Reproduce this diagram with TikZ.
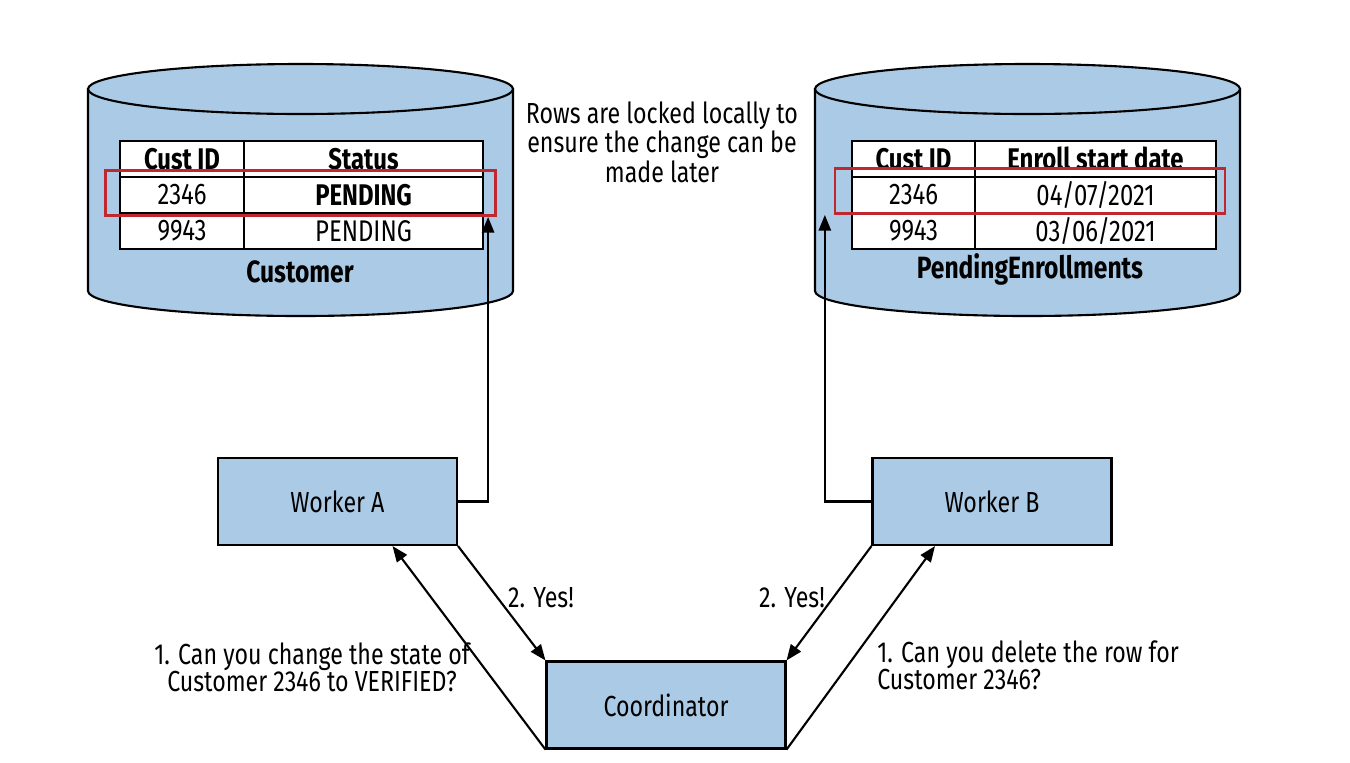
\documentclass[tikz,border=0pt]{standalone}
\usepackage{fontspec}
\setmainfont{Fira Sans}[FakeStretch=0.8]
\usetikzlibrary{positioning,arrows.meta,calc}
\definecolor{dbblue}{RGB}{171,202,229}
\definecolor{lockred}{RGB}{190,40,46}
\tikzstyle{dbwall}=[draw=black,fill=dbblue,line width=1.2pt]
\tikzstyle{box}=[rectangle,draw=black,fill=dbblue,line width=1.2pt,minimum width=4.78cm,minimum height=1.74cm,inner sep=0pt,font=\fontsize{16.5}{18}\selectfont]
\tikzstyle{cell}=[rectangle,draw=black,fill=white,line width=1.2pt,minimum height=0.71cm,inner sep=0pt,anchor=north west,font=\fontsize{17}{18}\selectfont]
\tikzstyle{lock}=[rectangle,draw=lockred,line width=1.6pt,minimum width=7.8cm,minimum height=0.9cm,inner sep=0pt]
\tikzstyle{edge}=[draw,line width=1.2pt,-{Triangle[length=9pt,width=7pt]}]
\tikzstyle{note}=[font=\fontsize{16.5}{15.3}\selectfont,inner sep=0pt]

\begin{document}
\begin{tikzpicture}[x=0.02cm,y=-0.02cm]
    \useasboundingbox (0,0) rectangle (1350,762);
    % the two databases
    \foreach \l/\r in {88/513, 815/1240}
    {
        \filldraw[dbwall] (\l,89) -- (\l,291) arc[start angle=180,end angle=0,x radius={(\r-\l)/2},y radius=25] -- (\r,89) -- cycle;
        \filldraw[dbwall] ({(\l+\r)/2},89) ellipse[x radius={(\r-\l)/2},y radius=25];
    }

    % table rows of Customer and PendingEnrollments
    \foreach \y/\name/\a/\b/\c in {140/h/{\bfseries Cust ID}/{\bfseries Status}/{\bfseries Enroll start date}, 176/r1/2346/{\bfseries PENDING}/{04/07/2021}, 212/r2/9943/PENDING/{03/06/2021}}
    {
        \node[cell,minimum width=2.48cm] (custid\name) at (119,\y) {\a};
        \node[cell,minimum width=4.78cm] (status\name) at (243,\y) {\b};
        \node[cell,minimum width=2.46cm] (pendid\name) at (851,\y) {\a};
        \node[cell,minimum width=4.82cm] (enroll\name) at (974,\y) {\c};
    }
    \node[font=\fontsize{17.5}{18}\selectfont\bfseries] (custlabel) at (300,272) {Customer};
    \node[font=\fontsize{17.5}{18}\selectfont\bfseries] (pendlabel) at (1030,269) {PendingEnrollments};

    % locked rows
    \node[lock] (lockA) at (300.5,193) {};
    \node[lock] (lockB) at (1030,191) {};

    % workers and coordinator
    \node[box] (workerA) at (337.5,501.5) {Worker A};
    \node[box] (workerB) at (992,501.5) {Worker B};
    \node[box] (coord) at (666,705) {Coordinator};

    % connectors
    \path[edge] (workerA.east) -| ([xshift=-5]lockA.south east);
    \path[edge] (workerB.west) -| ([xshift=-5]lockB.south west);
    \path[edge] (coord.south west) -- ($(workerA.south)+(55,0)$);
    \path[edge] (workerA.south east) -- (coord.north west);
    \path[edge] (workerB.south west) -- (coord.north east);
    \path[edge] (coord.south east) -- ($(workerB.south)+(-57,0)$);

    % labels
    \node[note] (yesA) at (541,598) {2. Yes!};
    \node[note] (yesB) at (792,598) {2. Yes!};
    \node[note,align=center] (askA) at (312,667) {1. Can you change the state of\\Customer 2346 to VERIFIED?};
    \node[note,align=left,anchor=west] (askB) at (877,665) {1. Can you delete the row for\\Customer 2346?};
    \node[note,align=center] (locknote) at (662,142) {Rows are locked locally to\\ensure the change can be\\made later};
\end{tikzpicture}
\end{document}
